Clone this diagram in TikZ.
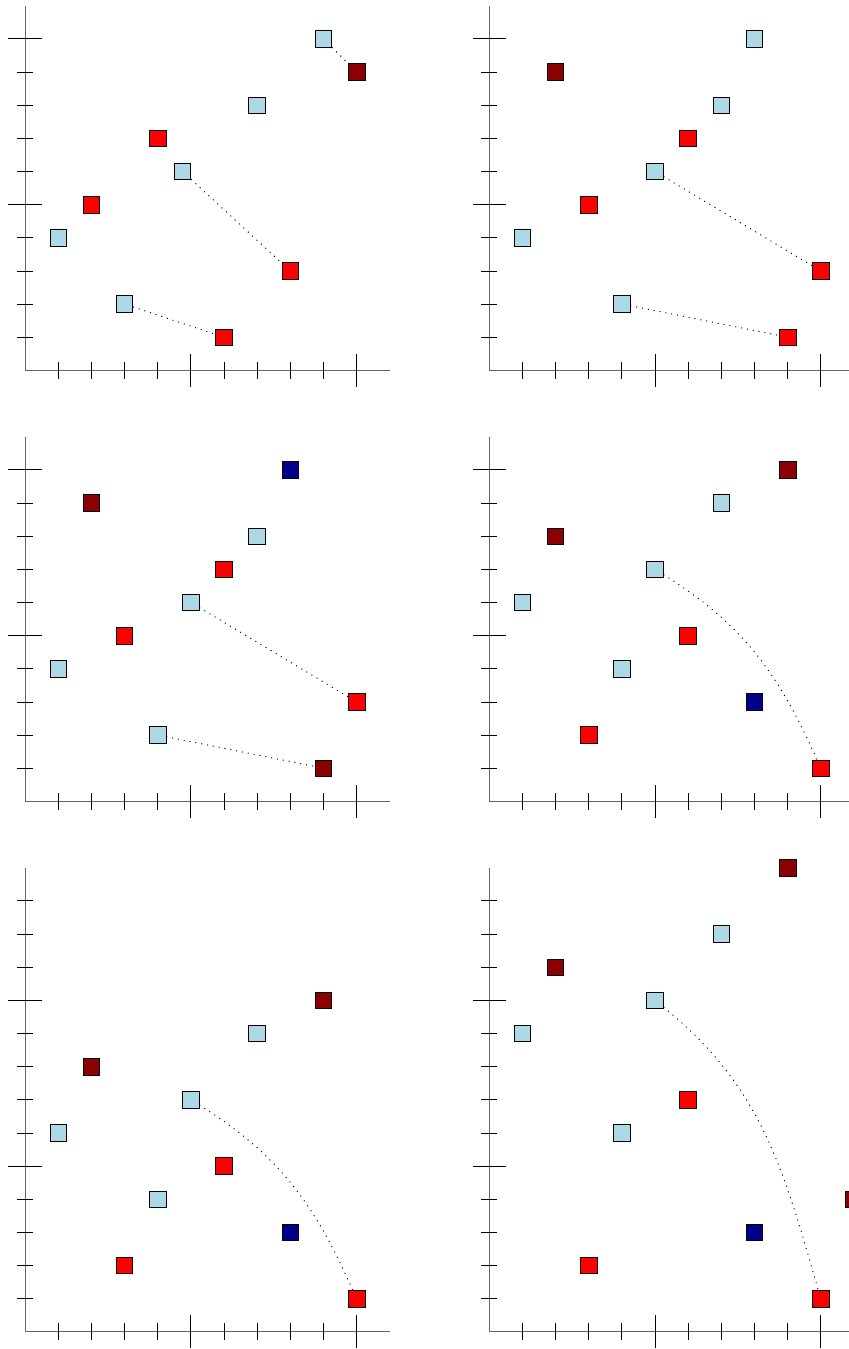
\documentclass[tikz,border=0pt]{standalone}
\definecolor{ptLight}{HTML}{ADD8E6}
\definecolor{ptRed}{HTML}{FF0000}
\definecolor{ptDark}{HTML}{8B0000}
\definecolor{ptNavy}{HTML}{00008B}
\usepackage{xcolor}
\usepackage{tikz}

% assi con tacche (lunghe a 5 e 10)
\newcommand{\plotaxes}[1]{%
  \draw[axis] (0,0) -- (11,0);
  \draw[axis] (0,0) -- (0,#1);
  \foreach \k in {1,...,10} {
    \pgfmathsetmacro\tl{(\k==5 || \k==10) ? 0.5 : 0.25}
    \draw[tick] (\k,-\tl) -- (\k,\tl);
  }
  \pgfmathtruncatemacro\ytop{#1-1}
  \foreach \k in {1,...,\ytop} {
    \pgfmathsetmacro\tl{(\k==5 || \k==10) ? 0.5 : 0.25}
    \draw[tick] (-\tl,\k) -- (\tl,\k);
  }
}

\begin{document}
\begin{tikzpicture}[
        pt/.style={draw=black, line width=0.5pt, minimum size=5mm,
                   inner sep=0pt},
        lb/.style={pt, fill=ptLight},
        rd/.style={pt, fill=ptRed},
        dr/.style={pt, fill=ptDark},
        nv/.style={pt, fill=ptNavy},
        axis/.style={line width=0.8pt, color=black!60},
        tick/.style={line width=0.6pt, color=black},
        link/.style={line width=0.8pt, dash pattern=on 0.9pt off 4.2pt,
                     color=black},
      ]
        \useasboundingbox (-0.754,-29.52) rectangle (24.83,11.17);
        % Pannello in alto a sinistra
        \begin{scope}
          \plotaxes{11}
          \node[lb] (a1) at (9,10) {};
          \node[dr] (a2) at (10,9) {};
          \node[lb] (a3) at (7,8) {};
          \node[rd] (a4) at (4,7) {};
          \node[lb] (a5) at (4.75,6) {};
          \node[rd] (a6) at (2,5) {};
          \node[lb] (a7) at (1,4) {};
          \node[rd] (a8) at (8,3) {};
          \node[lb] (a9) at (3,2) {};
          \node[rd] (a10) at (6,1) {};
          \draw[link] (a1) -- (a2);
          \draw[link] (a5) -- (a8);
          \draw[link] (a9) -- (a10);
        \end{scope}
        % Pannello in alto a destra
        \begin{scope}[shift={(14,0)}]
          \plotaxes{11}
          \node[lb] (b1) at (8,10) {};
          \node[dr] (b2) at (2,9) {};
          \node[lb] (b3) at (7,8) {};
          \node[rd] (b4) at (6,7) {};
          \node[lb] (b5) at (5,6) {};
          \node[rd] (b6) at (3,5) {};
          \node[lb] (b7) at (1,4) {};
          \node[rd] (b8) at (10,3) {};
          \node[lb] (b9) at (4,2) {};
          \node[rd] (b10) at (9,1) {};
          \draw[link] (b5) -- (b8);
          \draw[link] (b9) -- (b10);
        \end{scope}
        % Pannello centrale a sinistra
        \begin{scope}[shift={(0,-13)}]
          \plotaxes{11}
          \node[nv] (c1) at (8,10) {};
          \node[dr] (c2) at (2,9) {};
          \node[lb] (c3) at (7,8) {};
          \node[rd] (c4) at (6,7) {};
          \node[lb] (c5) at (5,6) {};
          \node[rd] (c6) at (3,5) {};
          \node[lb] (c7) at (1,4) {};
          \node[rd] (c8) at (10,3) {};
          \node[lb] (c9) at (4,2) {};
          \node[dr] (c10) at (9,1) {};
          \draw[link] (c5) -- (c8);
          \draw[link] (c9) -- (c10);
        \end{scope}
        % Pannello centrale a destra
        \begin{scope}[shift={(14,-13)}]
          \plotaxes{11}
          \node[dr] (d1) at (9,10) {};
          \node[lb] (d2) at (7,9) {};
          \node[dr] (d3) at (2,8) {};
          \node[lb] (d4) at (5,7) {};
          \node[lb] (d5) at (1,6) {};
          \node[rd] (d6) at (6,5) {};
          \node[lb] (d7) at (4,4) {};
          \node[nv] (d8) at (8,3) {};
          \node[rd] (d9) at (3,2) {};
          \node[rd] (d10) at (10,1) {};
          \draw[link] (d4) to[out=-32, in=114] (d10);
        \end{scope}
        % Pannello in basso a sinistra
        \begin{scope}[shift={(0,-29)}]
          \plotaxes{14}
          \node[dr] (e1) at (9,10) {};
          \node[lb] (e2) at (7,9) {};
          \node[dr] (e3) at (2,8) {};
          \node[lb] (e4) at (5,7) {};
          \node[lb] (e5) at (1,6) {};
          \node[rd] (e6) at (6,5) {};
          \node[lb] (e7) at (4,4) {};
          \node[nv] (e8) at (8,3) {};
          \node[rd] (e9) at (3,2) {};
          \node[rd] (e10) at (10,1) {};
          \draw[link] (e4) to[out=-32, in=114] (e10);
        \end{scope}
        % Pannello in basso a destra
        \begin{scope}[shift={(14,-29)}]
          \plotaxes{14}
          \node[dr] (f1) at (9,14) {};
          \node[lb] (f2) at (7,12) {};
          \node[dr] (f3) at (2,11) {};
          \node[lb] (f4) at (5,10) {};
          \node[lb] (f5) at (1,9) {};
          \node[rd] (f6) at (6,7) {};
          \node[lb] (f7) at (4,6) {};
          \node[dr] (f8) at (11,4) {};
          \node[nv] (f9) at (8,3) {};
          \node[rd] (f10) at (3,2) {};
          \node[rd] (f11) at (10,1) {};
          \draw[link] (f4) to[out=-39, in=106] (f11);
        \end{scope}
      \end{tikzpicture}
\end{document}
